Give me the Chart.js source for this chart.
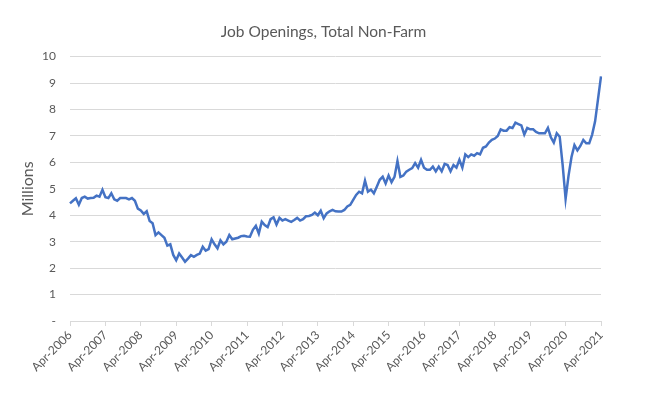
<!DOCTYPE html>
<html>
<head>
<meta charset="utf-8">
<script src="https://cdn.jsdelivr.net/npm/chart.js@4"></script>
<style>
  html, body { margin: 0; padding: 0; background: #fff; }
  #wrap { width: 647px; height: 396px; }
</style>
</head>
<body>
<div id="wrap"><canvas id="chart" width="647" height="396"></canvas></div>
<script>
// Monthly job openings, millions, Apr-2006 .. Apr-2021
const startYear = 2006;
const startMonth = 3; // April (0-based)
const openings = [
  4.45, 4.55, 4.64, 4.40, 4.65, 4.70, 4.63, 4.65, 4.66, 4.74, 4.70, 4.96,
  4.68, 4.65, 4.83, 4.60, 4.55, 4.65, 4.65, 4.65, 4.60, 4.65, 4.55, 4.25,
  4.18, 4.05, 4.15, 3.78, 3.70, 3.25, 3.35, 3.25, 3.15, 2.85, 2.90, 2.50,
  2.30, 2.55, 2.40, 2.24, 2.36, 2.49, 2.43, 2.50, 2.55, 2.81, 2.66, 2.72,
  3.09, 2.90, 2.75, 3.05, 2.90, 3.00, 3.25, 3.09, 3.12, 3.15, 3.21, 3.22,
  3.20, 3.19, 3.45, 3.60, 3.31, 3.76, 3.63, 3.55, 3.85, 3.92, 3.65, 3.90,
  3.80, 3.85, 3.80, 3.75, 3.82, 3.90, 3.80, 3.85, 3.96, 3.97, 4.01, 4.10,
  4.00, 4.17, 3.89, 4.07, 4.15, 4.20, 4.15, 4.14, 4.14, 4.20, 4.33, 4.39,
  4.58, 4.77, 4.89, 4.83, 5.31, 4.89, 4.97, 4.83, 5.08, 5.34, 5.46, 5.20,
  5.50, 5.25, 5.45, 6.05, 5.45, 5.50, 5.65, 5.72, 5.78, 5.97, 5.80, 6.10,
  5.80, 5.72, 5.72, 5.84, 5.66, 5.84, 5.66, 5.94, 5.90, 5.66, 5.90, 5.80,
  6.10, 5.80, 6.30, 6.20, 6.30, 6.25, 6.35, 6.30, 6.55, 6.60, 6.75, 6.85,
  6.90, 7.00, 7.25, 7.20, 7.20, 7.33, 7.30, 7.50, 7.45, 7.40, 7.05, 7.30,
  7.25, 7.25, 7.15, 7.10, 7.10, 7.10, 7.30, 6.95, 6.75, 7.10, 6.97, 5.90,
  4.62, 5.50, 6.20, 6.65, 6.45, 6.62, 6.85, 6.72, 6.72, 7.05, 7.55, 8.40,
  9.25
];
const monthNames = ['Jan', 'Feb', 'Mar', 'Apr', 'May', 'Jun', 'Jul', 'Aug', 'Sep', 'Oct', 'Nov', 'Dec'];
const yTicks = [0, 1, 2, 3, 4, 5, 6, 7, 8, 9, 10];

const labels = openings.map((_, i) => {
  const m = (startMonth + i) % 12;
  const y = startYear + Math.floor((startMonth + i) / 12);
  return `${monthNames[m]}-${y}`;
});

const textColor = '#595959';
const gridColor = '#d9d9d9';
const fontFamily = 'Lato, "Open Sans", sans-serif';

new Chart(document.getElementById('chart'), {
  type: 'line',
  data: {
    labels: labels,
    datasets: [{
      data: openings,
      borderColor: '#4472C4',
      borderWidth: 2.5,
      pointRadius: 0,
      tension: 0,
      fill: false
    }]
  },
  options: {
    responsive: false,
    animation: false,
    layout: { padding: 0 },
    plugins: {
      legend: { display: false },
      tooltip: { enabled: false },
      title: {
        display: true,
        text: 'Job Openings, Total Non-Farm',
        color: textColor,
        font: { family: fontFamily, size: 15.5, weight: 'normal' },
        padding: { top: 23, bottom: 15 }
      }
    },
    scales: {
      x: {
        type: 'category',
        offset: false,
        afterFit: (scale) => { scale.height = 75; },
        grid: {
          drawOnChartArea: false,
          drawTicks: true,
          tickLength: 5,
          color: (ctx) => (ctx.index % 12 === 0 ? gridColor : 'rgba(0,0,0,0)')
        },
        border: { display: true, color: gridColor },
        ticks: {
          autoSkip: false,
          maxRotation: 45,
          minRotation: 45,
          padding: 2,
          color: textColor,
          font: { family: fontFamily, size: 12 },
          callback: function (value, index) {
            return index % 12 === 0 ? labels[index] : '';
          }
        }
      },
      y: {
        min: 0,
        max: 10,
        afterFit: (scale) => { scale.width = 70; },
        afterBuildTicks: (scale) => { scale.ticks = yTicks.map(v => ({ value: v })); },
        grid: { color: gridColor, drawTicks: false },
        border: { display: false },
        ticks: {
          padding: 14,
          color: textColor,
          font: { family: fontFamily, size: 12 },
          callback: (value) => (value === 0 ? '-' : value)
        },
        title: {
          display: true,
          text: 'Millions',
          color: textColor,
          font: { family: fontFamily, size: 16 },
          padding: { top: 18, bottom: 0 }
        }
      },
      // empty right-hand gutter so the title centres on the whole canvas
      yRight: {
        position: 'right',
        min: 0,
        max: 10,
        afterFit: (scale) => { scale.width = 46; },
        grid: { drawOnChartArea: false, drawTicks: false },
        border: { display: false },
        ticks: { display: false }
      }
    }
  }
});
</script>
</body>
</html>
